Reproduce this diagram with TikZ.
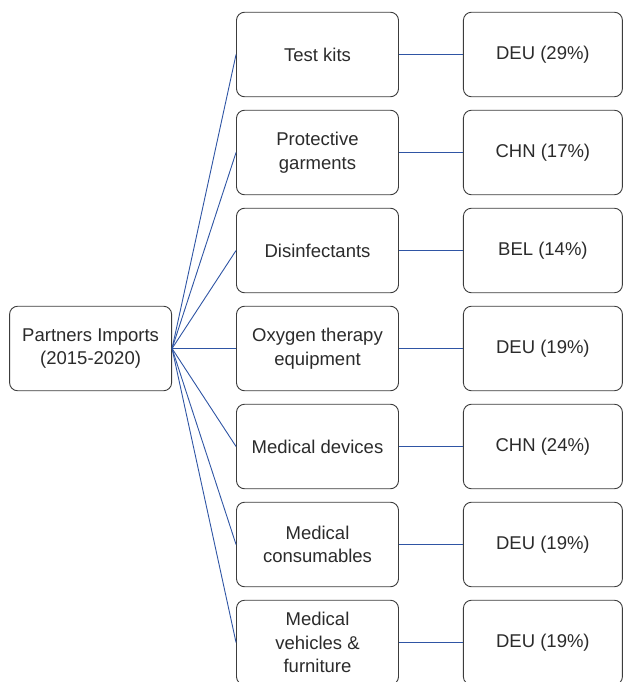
\documentclass[tikz,border=0pt]{standalone}
\usepackage{fontspec}
\setmainfont{Liberation Sans}
\usepackage{xcolor}
\usetikzlibrary{positioning}

\definecolor{boxgray}{HTML}{3C3C3C}
\definecolor{txtgray}{HTML}{2B2B2B}
\definecolor{linkblue}{HTML}{2F55A4}

\begin{document}
\begin{tikzpicture}[x=1pt, y=1pt, node distance=12.6pt and 64pt,
  box/.style={draw=boxgray, line width=0.9pt, rounded corners=8pt, fill=white,
    minimum width=162pt, minimum height=84.5pt, align=center, text=txtgray,
    inner sep=2pt, font=\fontsize{18.5}{23.5}\selectfont},
  share/.style={box, minimum width=159pt},
  link/.style={draw=linkblue, line width=0.9pt}]
  \useasboundingbox (0,0) rectangle (625,-682);
  \clip (0,0) rectangle (625,-682);

  % product groups
  \node (kits) [box] at (317.5,-54.5) {Test kits};
  \node (garments) [box, below=of kits] {Protective\\garments};
  \node (disinf) [box, below=of garments] {Disinfectants};
  \node (oxygen) [box, below=of disinf] {Oxygen therapy\\equipment};
  \node (devices) [box, below=of oxygen] {Medical devices};
  \node (consum) [box, below=of devices] {Medical\\consumables};
  \node (vehicles) [box, below=of consum] {Medical\\vehicles \&\\furniture};

  % root
  \node (root) [box, left=of oxygen] {Partners Imports\\(2015-2020)};

  % main partner
  \node (deuA) [share, right=of kits] {DEU (29\%)};
  \node (chnA) [share, right=of garments] {CHN (17\%)};
  \node (bel) [share, right=of disinf] {BEL (14\%)};
  \node (deuB) [share, right=of oxygen] {DEU (19\%)};
  \node (chnB) [share, right=of devices] {CHN (24\%)};
  \node (deuC) [share, right=of consum] {DEU (19\%)};
  \node (deuD) [share, right=of vehicles] {DEU (19\%)};

  \draw [link] (root.east) -- (kits.west);
  \draw [link] (root.east) -- (garments.west);
  \draw [link] (root.east) -- (disinf.west);
  \draw [link] (root.east) -- (oxygen.west);
  \draw [link] (root.east) -- (devices.west);
  \draw [link] (root.east) -- (consum.west);
  \draw [link] (root.east) -- (vehicles.west);

  \draw [link] (kits) -- (deuA);
  \draw [link] (garments) -- (chnA);
  \draw [link] (disinf) -- (bel);
  \draw [link] (oxygen) -- (deuB);
  \draw [link] (devices) -- (chnB);
  \draw [link] (consum) -- (deuC);
  \draw [link] (vehicles) -- (deuD);
\end{tikzpicture}
\end{document}
